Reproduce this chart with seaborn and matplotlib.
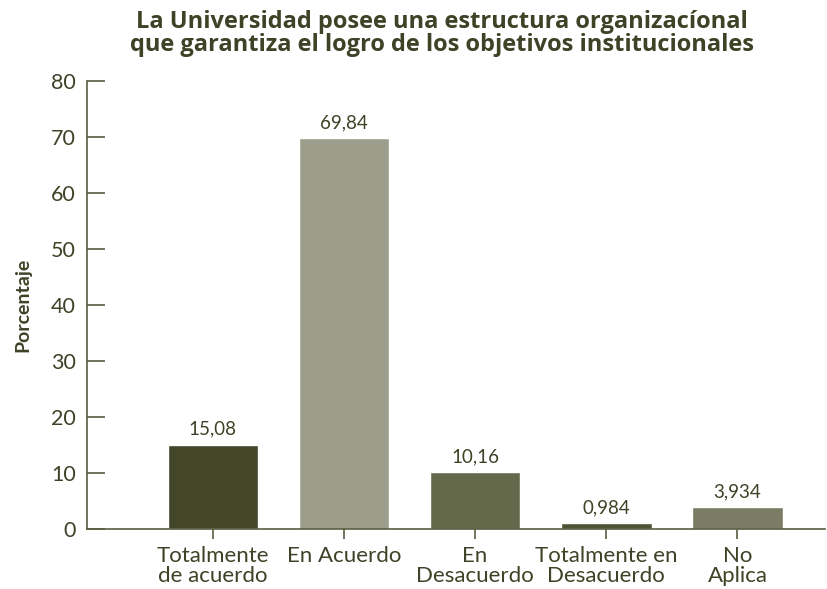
import matplotlib
matplotlib.use("Agg")
import matplotlib.pyplot as plt
import seaborn as sns

# datos
categorias = ["Totalmente\nde acuerdo", "En Acuerdo", "En\nDesacuerdo",
              "Totalmente en\nDesacuerdo", "No\nAplica"]
porcentajes = [15.08, 69.84, 10.16, 0.984, 3.934]
etiquetas = ["15,08", "69,84", "10,16", "0,984", "3,934"]
colores = ["#434628", "#9c9d8a", "#65694c", "#4f5233", "#7a7c63"]

titulo = ("La Universidad posee una estructura organizac\u00edonal\n"
          "que garantiza el logro de los objetivos institucionales")

texto = "#3e4226"
sns.set_style("white")
plt.rcParams["font.family"] = ["Lato", "DejaVu Sans"]

fig = plt.figure(figsize=(8.27, 5.89), dpi=100)
ax = fig.add_axes([0.105, 0.102, 0.893, 0.76])

sns.barplot(x=categorias, y=porcentajes, hue=categorias, palette=colores,
            width=0.69, legend=False, saturation=1, ax=ax)

for i, (v, t) in enumerate(zip(porcentajes, etiquetas)):
    ax.text(i, v + 1.2, t, ha="center", va="bottom", fontsize=13.5, color=texto)

ax.set_xlim(-0.96, 4.67)
ax.set_ylim(0, 80)
ax.set_yticks(range(0, 81, 10))
ax.tick_params(axis="y", left=True, direction="in", length=13, width=1.2,
               color="#5a5d40", labelsize=15.5, labelcolor=texto, pad=8)
ax.tick_params(axis="x", bottom=True, direction="out", length=7, width=1.2,
               color="#5a5d40", labelsize=16, labelcolor=texto, pad=5)
for lbl in ax.get_xticklabels():
    lbl.set_linespacing(1.0)

sns.despine(ax=ax)
for s in ["left", "bottom"]:
    ax.spines[s].set_color("#5a5d40")
    ax.spines[s].set_linewidth(1.2)

ax.set_ylabel("Porcentaje", fontsize=14, fontweight="bold", color=texto, labelpad=14)
ax.set_xlabel("")
fig.text(0.534, 0.943, titulo, ha="center", va="center", fontsize=17,
         fontweight="bold", color=texto, linespacing=0.9,
         family=["Open Sans", "DejaVu Sans"])

fig.savefig("out.png", dpi=100)
